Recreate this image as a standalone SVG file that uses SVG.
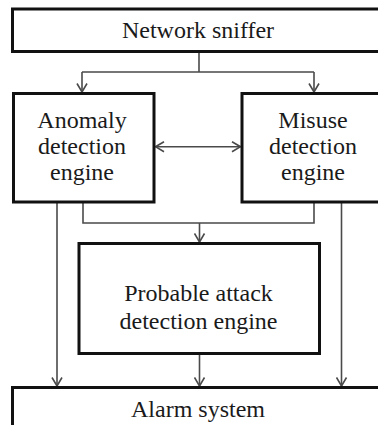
<svg xmlns="http://www.w3.org/2000/svg" width="378" height="425" viewBox="0 0 378 425">
<defs>
<marker id="ah" viewBox="0 0 10 12" refX="9.5" refY="6" markerWidth="10" markerHeight="12" markerUnits="userSpaceOnUse" orient="auto-start-reverse">
<path d="M1,1 L9.5,6 L1,11" fill="none" stroke="#4a4a4a" stroke-width="1.6"/>
</marker>
</defs>
<rect width="378" height="425" fill="#fff"/>
<g id="connectors" fill="none" stroke="#4a4a4a" stroke-width="1.6">
<path d="M199,52 V72 M82,72 H314"/>
<path d="M82,72 V92" marker-end="url(#ah)"/>
<path d="M314,72 V92" marker-end="url(#ah)"/>
<path d="M155.5,146.7 H240.5" marker-start="url(#ah)" marker-end="url(#ah)"/>
<path d="M83,203 V223 H314 V203"/>
<path d="M199.5,223 V242" marker-end="url(#ah)"/>
<path d="M57,203 V386" marker-end="url(#ah)"/>
<path d="M341.5,203 V386" marker-end="url(#ah)"/>
<path d="M199.5,355 V386" marker-end="url(#ah)"/>
</g>
<g font-family="Liberation Serif" font-size="24" text-anchor="middle">
<g id="sniffer">
<rect x="12.5" y="9" width="380" height="42.5" fill="#fff" stroke="#111" stroke-width="3"/>
<text x="198" y="38" fill="#1a1a1a">Network sniffer</text>
</g>
<g id="anomaly">
<rect x="13.5" y="93.5" width="140.5" height="108.5" fill="#fff" stroke="#111" stroke-width="3"/>
<text x="82" y="128" fill="#1a1a1a">Anomaly</text>
<text x="82" y="154" fill="#1a1a1a">detection</text>
<text x="82" y="180" fill="#1a1a1a">engine</text>
</g>
<g id="misuse">
<rect x="242" y="93.5" width="150" height="108.5" fill="#fff" stroke="#111" stroke-width="3"/>
<text x="313" y="128" fill="#1a1a1a">Misuse</text>
<text x="313" y="154" fill="#1a1a1a">detection</text>
<text x="313" y="180" fill="#1a1a1a">engine</text>
</g>
<g id="probable">
<rect x="79" y="243.5" width="240.5" height="110" fill="#fff" stroke="#111" stroke-width="3"/>
<text x="198.5" y="301" fill="#1a1a1a">Probable attack</text>
<text x="198.5" y="329" fill="#1a1a1a">detection engine</text>
</g>
<g id="alarm">
<rect x="12.5" y="387.5" width="380" height="50" fill="#fff" stroke="#111" stroke-width="3"/>
<text x="198" y="417" fill="#1a1a1a">Alarm system</text>
</g>
</g>
</svg>
